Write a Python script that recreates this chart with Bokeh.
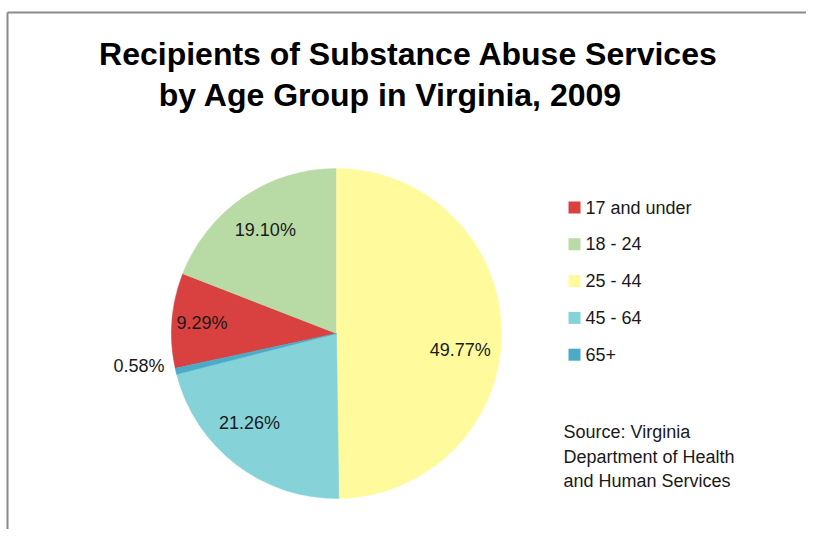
import math
from bokeh.plotting import figure
from bokeh.models import Range1d, ColumnDataSource
from bokeh.core.properties import value
from bokeh.embed import file_html
from bokeh.resources import INLINE

# ---- data ----
categories = ["17 and under", "18 - 24", "25 - 44", "45 - 64", "65+"]
percent = [9.29, 19.10, 49.77, 21.26, 0.58]
colors = ["#D94141", "#B8DBA6", "#FFFA9C", "#85D2D9", "#4BAAC6"]
title_lines = ["Recipients of Substance Abuse Services", "by Age Group in Virginia, 2009"]
source_lines = ["Source: Virginia", "Department of Health", "and Human Services"]

# ---- layout / style ----
W, H = 806, 529
FONT = "Liberation Sans"


def X(px):
    return px


def Y(py):
    return H - py


first_slice_deg = 257.8          # clockwise from 12 o'clock
pie_cx, pie_cy, pie_r = X(336), Y(333), 165
label_r = [135, 126, 125, 124.5, 200]
label_nudge = [0.0, 0.0, 8.2, 6.9, 4.0]

p = figure(width=W, height=H, x_range=Range1d(0, W), y_range=Range1d(0, H),
           x_axis_type=None, y_axis_type=None, output_backend="svg",
           toolbar_location=None, min_border=0, outline_line_color=None)
p.grid.visible = False
p.background_fill_color = "white"
p.border_fill_color = "white"

# frame lines
p.line(x=[X(7), X(7)], y=[0, Y(12)], line_color="#8a8a8a", line_width=2)
p.line(x=[X(7), W], y=[Y(12), Y(12)], line_color="#8a8a8a", line_width=2)

# pie wedges
starts, ends, lx, ly, ltxt = [], [], [], [], []
cum = 0.0
for i, v in enumerate(percent):
    s_cw = first_slice_deg + cum * 3.6
    e_cw = s_cw + v * 3.6
    starts.append(math.pi / 2 - math.radians(s_cw))
    ends.append(math.pi / 2 - math.radians(e_cw))
    mid = math.radians((s_cw + e_cw) / 2 + label_nudge[i])
    lx.append(pie_cx + label_r[i] * math.sin(mid))
    ly.append(pie_cy + label_r[i] * math.cos(mid))
    ltxt.append("%.2f%%" % v)
    cum += v

src = ColumnDataSource(dict(start=starts, end=ends, color=colors))
p.wedge(x=pie_cx, y=pie_cy, radius=pie_r, start_angle="start", end_angle="end",
        direction="clock", fill_color="color", line_color="color", line_width=0.5,
        source=src)

p.text(x=lx, y=ly, text=ltxt, text_font=value(FONT), text_font_size="18px",
       text_align="center", text_baseline="middle", text_color="#1a1a1a")

# title
p.text(x=[X(408), X(390)], y=[Y(53), Y(94)], text=title_lines,
       text_font=value(FONT), text_font_size="32px", text_font_style="bold",
       text_align="center", text_baseline="middle", text_color="#000000")

# legend
leg_y0, leg_dy = 207, 36.8
leg_ys = [Y(leg_y0 + i * leg_dy) for i in range(len(categories))]
p.rect(x=[X(574)] * len(categories), y=leg_ys, width=12, height=12,
       width_units="screen", height_units="screen", fill_color=colors, line_color=None)
p.text(x=[X(585)] * len(categories), y=leg_ys, text=categories,
       text_font=value(FONT), text_font_size="18px", text_align="left",
       text_baseline="middle", text_color="#1a1a1a")

# source note
src_y0, src_dy = 431.5, 24.5
p.text(x=[X(563)] * len(source_lines), y=[Y(src_y0 + i * src_dy) for i in range(len(source_lines))],
       text=source_lines, text_font=value(FONT), text_font_size="18px",
       text_align="left", text_baseline="middle", text_color="#1a1a1a")

open("out.html", "w").write(file_html(p, INLINE))
